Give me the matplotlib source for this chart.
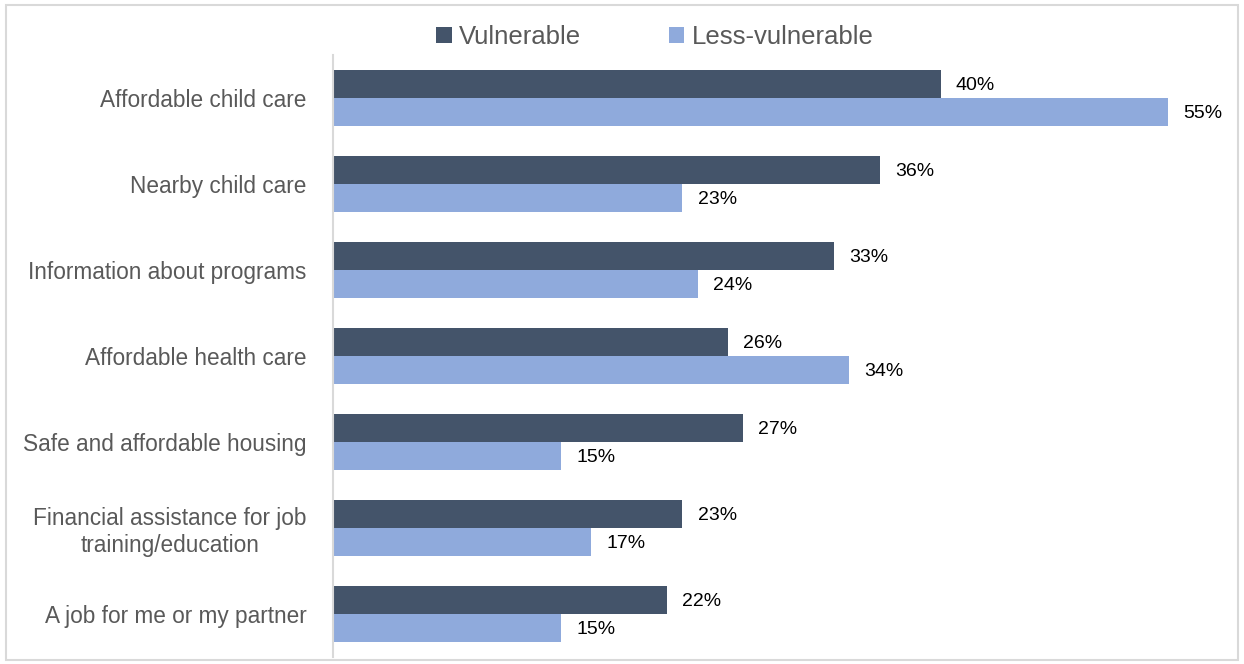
import numpy as np
import matplotlib.pyplot as plt
from matplotlib.patches import Rectangle

plt.rcParams['font.family'] = ['Liberation Sans', 'DejaVu Sans']

categories = ['Affordable child care', 'Nearby child care', 'Information about programs',
              'Affordable health care', 'Safe and affordable housing',
              'Financial assistance for job\ntraining/education', 'A job for me or my partner']
vulnerable = [40, 36, 33, 26, 27, 23, 22]
less_vulnerable = [55, 23, 24, 34, 15, 17, 15]
series = ['Vulnerable', 'Less-vulnerable']

c_dark = '#44546A'
c_light = '#8FAADC'

fig = plt.figure(figsize=(12.44, 6.64), dpi=100)
ax = fig.add_axes([333/1244, 1 - 657/664, (1220 - 333)/1244, (657 - 55)/664])

y = np.arange(len(categories))
h = 0.33
b1 = ax.barh(y - h/2, vulnerable, height=h, color=c_dark, label=series[0])
b2 = ax.barh(y + h/2, less_vulnerable, height=h, color=c_light, label=series[1])

for bars, vals in [(b1, vulnerable), (b2, less_vulnerable)]:
    for bar, v in zip(bars, vals):
        ax.text(bar.get_width() + 1.0, bar.get_y() + bar.get_height()/2 + 0.02, f'{v}%',
                va='center', ha='left', fontsize=14, color='black')

ax.set_ylim(len(categories) - 0.5, -0.5)
ax.set_xlim(0, 58.4)
ax.set_yticks(y)
ax.set_yticklabels(categories, fontsize=16.3, color='#595959', multialignment='center')
ax.tick_params(axis='y', length=0, pad=19)
ax.set_xticks([])
for s in ['top', 'right', 'bottom']:
    ax.spines[s].set_visible(False)
ax.spines['left'].set_color('#D9D9D9')
ax.spines['left'].set_linewidth(1.5)

fig.legend(loc='center', bbox_to_anchor=(655/1244, 1 - 37/664), ncol=2, frameon=False,
           fontsize=18.5, handlelength=0.6, handleheight=0.6, handletextpad=0.3,
           columnspacing=3.4, labelcolor='#595959')

fig.patches.append(Rectangle((6/1244, 4/664), 1232/1244, 655/664, transform=fig.transFigure,
                             fill=False, edgecolor='#D9D9D9', linewidth=1.5))

fig.savefig('out.png', dpi=100)
